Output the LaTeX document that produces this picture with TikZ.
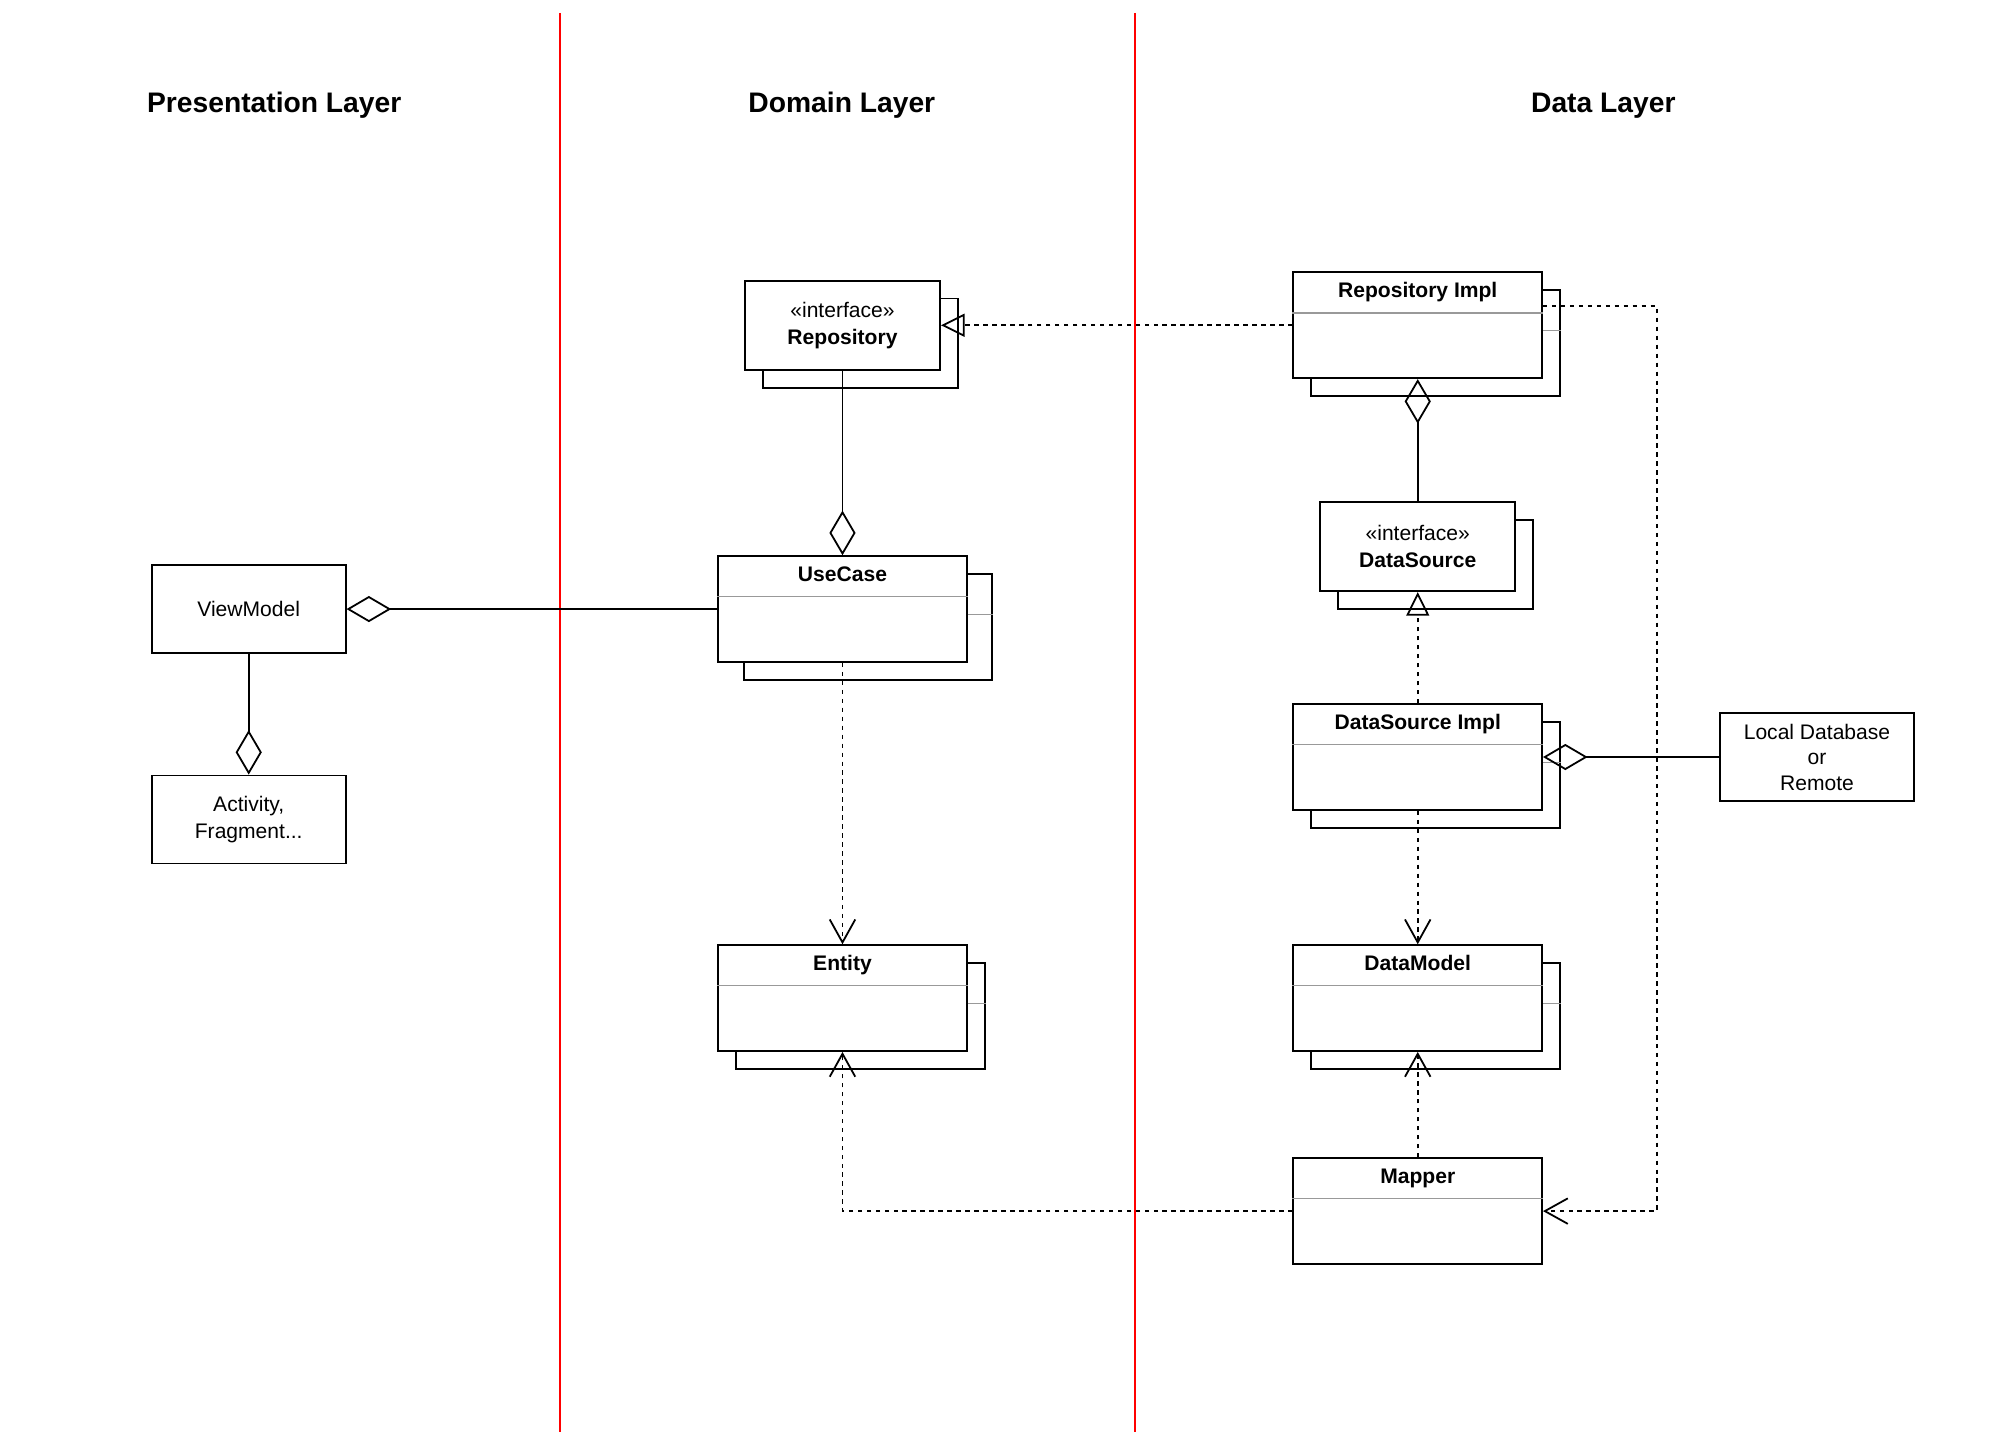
\documentclass[tikz,border=0pt]{standalone}
\usepackage{fontspec}
\setmainfont{Liberation Sans}
\usetikzlibrary{arrows.meta,shadows}

\begin{document}
\begin{tikzpicture}[
    laag/.style={font=\fontsize{12.6}{15}\selectfont\bfseries},
    grens/.style={red, line width=0.7pt},
    blok/.style={draw, fill=white, line width=0.8pt, minimum width=3.04cm, minimum height=1.38cm, align=center, font=\fontsize{9.4}{12}\selectfont},
    iface/.style={blok, minimum width=3.06cm, minimum height=1.4cm},
    klasse/.style={draw, fill=white, line width=0.8pt, inner sep=0pt, minimum width=3.9cm, text height=0.395cm, text depth=1.265cm, font=\fontsize{9.4}{12}\selectfont\bfseries},
    stapel/.style={copy shadow={shadow xshift=0.28cm, shadow yshift=-0.28cm, line width=0.8pt}},
    scheiding/.style={black!40, line width=0.6pt},
    aggregatie/.style={line width=0.8pt, -{Diamond[open, length=0.7cm, width=0.41cm]}},
    realiseer/.style={line width=0.8pt, dash pattern=on 2pt off 2pt, -{Triangle[open, length=0.37cm, width=0.36cm]}},
    afhankelijk/.style={line width=0.8pt, dash pattern=on 2pt off 2pt, -{Straight Barb[length=0.36cm, width=0.4cm]}}
]
    \useasboundingbox (0,0) rectangle (31.36,-22.55);

    % lagen
    \draw[grens] (8.78,-0.2) -- (8.78,-22.46);
    \draw[grens] (17.8,-0.2) -- (17.8,-22.46);

    \node[laag] (prestitel) at (4.3,-1.65) {Presentation Layer};
    \node[laag] (domeintitel) at (13.2,-1.65) {Domain Layer};
    \node[laag] (datatitel) at (25.14,-1.65) {Data Layer};

    % presentation
    \node[blok] (viewmodel) at (3.9,-9.55) {ViewModel};
    \node[blok] (activity) at (3.9,-12.85) {Activity,\\Fragment...};

    % domain
    \node[iface, stapel] (repo) at (13.21,-5.1) {«interface»\\\textbf{Repository}};
    \node[klasse, copy shadow={shadow xshift=0.4cm, shadow yshift=-0.28cm, line width=0.8pt}] (usecase) at (13.21,-9.55) {UseCase};
    \node[klasse, stapel] (entity) at (13.21,-15.65) {Entity};

    % data
    \node[klasse, stapel] (repoimpl) at (22.23,-5.1) {Repository Impl};
    \node[iface, stapel] (datasource) at (22.23,-8.57) {«interface»\\\textbf{DataSource}};
    \node[klasse, stapel] (dsimpl) at (22.23,-11.87) {DataSource Impl};
    \node[klasse, stapel] (datamodel) at (22.23,-15.65) {DataModel};
    \node[klasse] (mapper) at (22.23,-18.99) {Mapper};
    \node[blok, font=\fontsize{9.4}{11.4}\selectfont] (lokaal) at (28.49,-11.87) {Local Database\\or\\Remote};

    % scheidingslijnen
    \draw[scheiding] ([yshift=-0.65cm]usecase.north west) -- ([yshift=-0.65cm]usecase.north east);
    \draw[scheiding] ([yshift=-0.93cm]usecase.north east) -- ++(0.4,0);
    \draw[scheiding] ([yshift=-0.65cm]entity.north west) -- ([yshift=-0.65cm]entity.north east);
    \draw[scheiding] ([yshift=-0.93cm]entity.north east) -- ++(0.28,0);
    \draw[scheiding] ([yshift=-0.65cm]repoimpl.north west) -- ([yshift=-0.65cm]repoimpl.north east);
    \draw[scheiding] ([yshift=-0.93cm]repoimpl.north east) -- ++(0.28,0);
    \draw[scheiding] ([yshift=-0.65cm]dsimpl.north west) -- ([yshift=-0.65cm]dsimpl.north east);
    \draw[scheiding] ([yshift=-0.93cm]dsimpl.north east) -- ++(0.28,0);
    \draw[scheiding] ([yshift=-0.65cm]datamodel.north west) -- ([yshift=-0.65cm]datamodel.north east);
    \draw[scheiding] ([yshift=-0.93cm]datamodel.north east) -- ++(0.28,0);
    \draw[scheiding] ([yshift=-0.65cm]mapper.north west) -- ([yshift=-0.65cm]mapper.north east);

    % verbindingen
    \draw[aggregatie] (usecase.west) -- (viewmodel.east);
    \draw[aggregatie] (viewmodel.south) -- (activity.north);
    \draw[aggregatie] (repo.south) -- (usecase.north);
    \draw[realiseer] (repoimpl.west) -- (repo.east);
    \draw[afhankelijk] (usecase.south) -- (entity.north);
    \draw[aggregatie] (datasource.north) -- (repoimpl.south);
    \draw[realiseer] (dsimpl.north) -- (datasource.south);
    \draw[aggregatie] (lokaal.west) -- (dsimpl.east);
    \draw[afhankelijk] (dsimpl.south) -- (datamodel.north);
    \draw[afhankelijk] (mapper.north) -- (datamodel.south);
    \draw[afhankelijk] (mapper.west) -| (entity.south);
    \coordinate (bocht) at (25.98,-4.8);
    \draw[afhankelijk] (bocht -| repoimpl.east) -- (bocht) |- (mapper.east);
\end{tikzpicture}
\end{document}
